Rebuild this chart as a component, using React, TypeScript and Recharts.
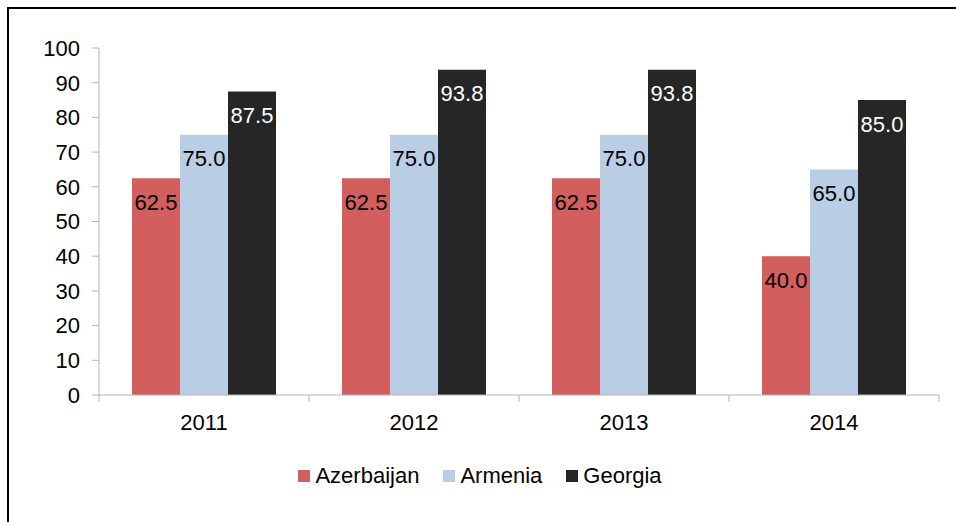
import React from "react";
import { BarChart, Bar, XAxis, YAxis, Legend, LabelList } from "recharts";

const years = ["2011", "2012", "2013", "2014"];
const azerbaijan = [62.5, 62.5, 62.5, 40.0];
const armenia = [75.0, 75.0, 75.0, 65.0];
const georgia = [87.5, 93.75, 93.75, 85.0];
const yTicks = [0, 10, 20, 30, 40, 50, 60, 70, 80, 90, 100];

const series = [
  { key: "Azerbaijan", color: "#D35E5E", labelColor: "#000000" },
  { key: "Armenia", color: "#B9CDE5", labelColor: "#000000" },
  { key: "Georgia", color: "#262626", labelColor: "#FFFFFF" },
];

const data = years.map((year, i) => ({
  year,
  Azerbaijan: azerbaijan[i],
  Armenia: armenia[i],
  Georgia: georgia[i],
}));

const W = 956;
const H = 522;
const margin = { top: 48, right: 17, bottom: 87, left: 0 };
const Y_AXIS_W = 99;
const PLOT_W = W - margin.left - margin.right - Y_AXIS_W;
const BAND = PLOT_W / years.length;

const FONT = '"Liberation Sans", Arial, sans-serif';
const FS = 22;
const AXIS_GRAY = "#B3B3B3";

// category labels in the middle, tick marks on the category boundaries
const XTick = (props: any) => {
  const { x, y, payload, index } = props;
  const left = x - BAND / 2;
  const right = x + BAND / 2;
  return (
    <g>
      <line x1={left} y1={y} x2={left} y2={y + 7} stroke={AXIS_GRAY} />
      {index === years.length - 1 && (
        <line x1={right} y1={y} x2={right} y2={y + 7} stroke={AXIS_GRAY} />
      )}
      <text
        x={x}
        y={y + 35}
        textAnchor="middle"
        fill="#000"
        fontSize={FS}
        fontFamily={FONT}
      >
        {payload.value}
      </text>
    </g>
  );
};

const LegendContent = () => (
  <div
    style={{
      display: "flex",
      justifyContent: "center",
      gap: 24,
      fontFamily: FONT,
      fontSize: FS,
      color: "#000",
      lineHeight: "26px",
    }}
  >
    {series.map((s) => (
      <div key={s.key} style={{ display: "flex", alignItems: "center" }}>
        <span
          style={{
            display: "inline-block",
            width: 12,
            height: 12,
            background: s.color,
            marginRight: 5,
          }}
        />
        <span>{s.key}</span>
      </div>
    ))}
  </div>
);

export default function App() {
  return (
    <div
      style={{
        position: "fixed",
        left: 0,
        top: 0,
        width: W,
        height: H,
        overflow: "hidden",
        background: "#fff",
      }}
    >
      <div
        style={{
          position: "absolute",
          left: 7,
          top: 7,
          width: 1200,
          height: 1200,
          borderTop: "2px solid #000",
          borderLeft: "2px solid #000",
        }}
      />
      <div style={{ position: "absolute", left: 0, top: 0 }}>
        <BarChart
          width={W}
          height={H}
          data={data}
          margin={margin}
          barCategoryGap={33}
          barGap={0}
        >
          <XAxis
            dataKey="year"
            height={40}
            axisLine={{ stroke: AXIS_GRAY }}
            tickLine={false}
            tickSize={0}
            tickMargin={0}
            tick={<XTick />}
            interval={0}
          />
          <YAxis
            width={Y_AXIS_W}
            domain={[0, 100]}
            ticks={yTicks}
            interval={0}
            axisLine={{ stroke: AXIS_GRAY }}
            tickLine={{ stroke: AXIS_GRAY }}
            tickSize={7}
            tickMargin={12}
            tick={{ fill: "#000", fontSize: FS, fontFamily: FONT }}
          />
          <Legend
            layout="horizontal"
            verticalAlign="middle"
            align="center"
            content={<LegendContent />}
            wrapperStyle={{ top: 463, left: 0, width: 960 }}
          />
          {series.map((s) => (
            <Bar
              key={s.key}
              dataKey={s.key}
              fill={s.color}
              isAnimationActive={false}
            >
              <LabelList
                dataKey={s.key}
                position="insideTop"
                offset={16}
                fill={s.labelColor}
                fontSize={FS}
                fontFamily={FONT}
                formatter={(v: any) => Number(v).toFixed(1)}
              />
            </Bar>
          ))}
        </BarChart>
      </div>
    </div>
  );
}
